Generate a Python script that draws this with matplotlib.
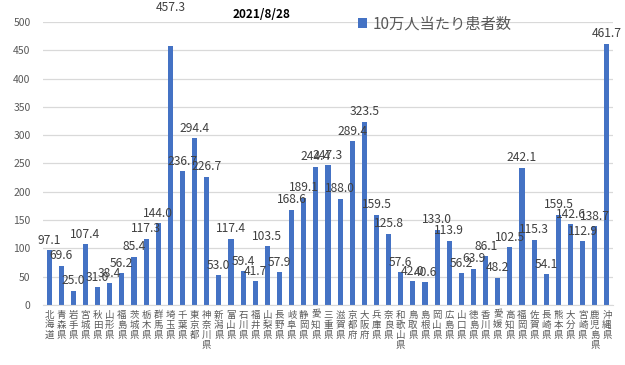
import numpy as np
import matplotlib
matplotlib.use("Agg")
import matplotlib.pyplot as plt

plt.rcParams['font.family'] = ['Noto Sans CJK JP', 'DejaVu Sans']

# data
prefs = ["北海道", "青森県", "岩手県", "宮城県", "秋田県", "山形県", "福島県",
         "茨城県", "栃木県", "群馬県", "埼玉県", "千葉県", "東京都", "神奈川県",
         "新潟県", "富山県", "石川県", "福井県", "山梨県", "長野県", "岐阜県",
         "静岡県", "愛知県", "三重県", "滋賀県", "京都府", "大阪府", "兵庫県",
         "奈良県", "和歌山県", "鳥取県", "島根県", "岡山県", "広島県", "山口県",
         "徳島県", "香川県", "愛媛県", "高知県", "福岡県", "佐賀県", "長崎県",
         "熊本県", "大分県", "宮崎県", "鹿児島県", "沖縄県"]
values = [97.1, 69.6, 25.0, 107.4, 31.0, 38.4, 56.2, 85.4, 117.3, 144.0,
          457.3, 236.7, 294.4, 226.7, 53.0, 117.4, 59.4, 41.7, 103.5, 57.9,
          168.6, 189.1, 244.4, 247.3, 188.0, 289.4, 323.5, 159.5, 125.8, 57.6,
          42.0, 40.6, 133.0, 113.9, 56.2, 63.9, 86.1, 48.2, 102.5, 242.1,
          115.3, 54.1, 159.5, 142.6, 112.9, 138.7, 461.7]
yticks = np.arange(0, 501, 50)
title = "2021/8/28"
series_name = "10万人当たり患者数"

gray = "#595959"
blue = "#4472C4"

fig = plt.figure(figsize=(6.25, 3.65), dpi=100)
ax = fig.add_axes([43/625, 1-305/365, 570/625, 283/365])

x = np.arange(len(prefs))
ax.bar(x, values, width=0.42, color=blue, zorder=2, label=series_name)

# data labels
for i, v in enumerate(values):
    dy = 2.5
    if i == 10:
        dy = 23  # this label sits higher in the original
    ax.annotate(f"{v:.1f}", (i, v), xytext=(0, dy), textcoords="offset points",
                ha="center", va="bottom", fontsize=8.7, color="#404040",
                annotation_clip=False)

ax.set_xlim(-0.5, len(prefs) - 0.5)
ax.set_ylim(0, 500)
ax.set_yticks(yticks)
ax.set_yticklabels([str(t) for t in yticks], fontsize=7.5, color=gray)
ax.set_xticks(x)
ax.set_xticklabels(["\n".join(p) for p in prefs], fontsize=6.8, color=gray,
                   linespacing=1.15, va="top")
ax.tick_params(axis="both", length=0)
ax.tick_params(axis="y", pad=9)
ax.tick_params(axis="x", pad=4)

ax.grid(axis="y", color="#D9D9D9", linewidth=0.9, zorder=0)
for s in ["top", "right", "left"]:
    ax.spines[s].set_visible(False)
ax.spines["bottom"].set_color("#D9D9D9")

fig.text(262/625, 1-15/365, title, ha="center", va="center",
         fontsize=8.5, color="black", fontweight="bold")
ax.legend(loc="center left", bbox_to_anchor=(309/570, 1-2/283), frameon=False,
          fontsize=11, labelcolor=gray, handlelength=0.6, handleheight=0.6,
          handletextpad=0.35, borderaxespad=0)

fig.savefig("out.png", dpi=100)
